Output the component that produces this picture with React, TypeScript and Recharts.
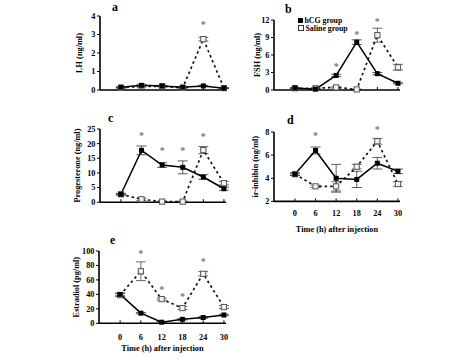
import React from 'react';
import { ComposedChart, Line, XAxis, YAxis, ErrorBar, ReferenceDot, Legend, Label } from 'recharts';

// ---------- data ----------
const times = [0, 6, 12, 18, 24, 30];
const timeTicks = [0, 6, 12, 18, 24, 30];

// a: LH (ng/ml)
const lhHcg = [0.15, 0.25, 0.22, 0.15, 0.22, 0.1];
const lhHcgErr = [0.03, 0.04, 0.03, 0.03, 0.04, 0.02];
const lhSaline = [0.12, 0.2, 0.2, 0.12, 2.75, 0.1];
const lhSalineErr = [0.02, 0.03, 0.03, 0.02, 0.1, 0.02];
const lhStarTimes = [24];
const lhStarValues = [3.55];
const lhTicks = [0, 1, 2, 3, 4];

// b: FSH (ng/ml)
const fshHcg = [0.35, 0.15, 2.5, 8.2, 2.8, 1.15];
const fshHcgErr = [0.05, 0.05, 0.2, 0.4, 0.2, 0.1];
const fshSaline = [0.3, 0.3, 0.45, 0.1, 9.4, 3.9];
const fshSalineErr = [0.05, 0.05, 0.1, 0.05, 1.2, 0.5];
const fshStarTimes = [12, 18, 24];
const fshStarValues = [4.2, 9.6, 11.9];
const fshTicks = [0, 3, 6, 9, 12];

// c: Progesterone (ng/ml)
const progHcg = [2.7, 17.7, 12.7, 11.9, 8.6, 4.6];
const progHcgErr = [0.3, 1.5, 0.8, 2.2, 0.8, 0.5];
const progSaline = [2.7, 1.0, 0.2, 0.2, 17.8, 6.5];
const progSalineErr = [0.2, 0.4, 0.2, 0.2, 1.2, 0.6];
const progStarTimes = [6, 12, 18, 24];
const progStarValues = [23, 17.8, 17.8, 22.6];
const progTicks = [0, 5, 10, 15, 20, 25];

// d: ir-inhibin (ng/ml)
const inhHcg = [4.35, 6.4, 4.0, 3.9, 5.3, 4.6];
const inhHcgErr = [0.1, 0.3, 1.2, 0.7, 0.5, 0.2];
const inhSaline = [4.35, 3.3, 3.3, 5.0, 7.2, 3.5];
const inhSalineErr = [0.1, 0.1, 0.4, 0.2, 0.25, 0.2];
const inhStarTimes = [6, 24];
const inhStarValues = [7.7, 8.25];
const inhTicks = [2, 4, 6, 8];

// e: Estradiol (pg/ml)
const e2Hcg = [40, 14, 1.5, 5.5, 8, 11.5];
const e2HcgErr = [2, 1, 1, 1, 1, 1];
const e2Saline = [39, 72, 33.5, 21, 68.5, 22.5];
const e2SalineErr = [2, 13, 1.5, 2, 3, 2];
const e2StarTimes = [6, 12, 18, 24];
const e2StarValues = [97, 48, 37.7, 85.5];
const e2Ticks = [0, 20, 40, 60, 80, 100];

const xTitle = 'Time (h) after injection';

// ---------- styling ----------
const FONT = '"Liberation Serif", "Times New Roman", serif';
const FS = 8.3;
const YW = 40;
const MT = 10;
const MR = 10;
const XH = 40;

const buildRows = (h: number[], s: number[], he: number[], se: number[]) =>
  times.map((t, i) => ({ t, hcg: h[i], saline: s[i], hcgErr: he[i], salineErr: se[i] }));

const FilledSquare = (p: any) => {
  if (p.cx == null || p.cy == null) return <g key={p.key ?? p.index} />;
  return <rect key={p.key ?? p.index} x={p.cx - 2.5} y={p.cy - 2.5} width={5} height={5} fill="#000" />;
};
const OpenSquare = (p: any) => {
  if (p.cx == null || p.cy == null) return <g key={p.key ?? p.index} />;
  return (
    <rect key={p.key ?? p.index} x={p.cx - 2.6} y={p.cy - 2.6} width={5.2} height={5.2} fill="#f2f2f2" stroke="#555" strokeWidth={1} />
  );
};
const StarShape = (p: any) => (
  <text x={p.cx} y={p.cy + 4} textAnchor="middle" fontSize={10} fontFamily={FONT} fontWeight="bold" fill="#777">
    *
  </text>
);

type PanelProps = {
  plotLeft: number; plotRight: number; plotTop: number; plotBottom: number;
  yDomain: [number, number]; yTicks: number[]; yLabel: string; labelDist: number;
  hcg: number[]; saline: number[]; hcgErr: number[]; salineErr: number[];
  starTimes: number[]; starValues: number[];
  showX?: boolean; xTickMargin?: number; xTitleDy?: number; legend?: boolean;
};

const LegendContent = () => (
  <div style={{ fontFamily: FONT, fontSize: 7.8, fontWeight: 'bold', lineHeight: '7.5px', color: '#000', whiteSpace: 'nowrap' }}>
    <div style={{ display: 'flex', alignItems: 'center', height: 7.5 }}>
      <span style={{ display: 'inline-block', width: 5, height: 5, background: '#000', marginRight: 1.5 }} />
      hCG group
    </div>
    <div style={{ display: 'flex', alignItems: 'center', height: 7.5 }}>
      <span style={{ display: 'inline-block', width: 4, height: 4, background: '#fff', border: '0.8px solid #333', marginRight: 1.5 }} />
      Saline group
    </div>
  </div>
);

const Panel = (props: PanelProps) => {
  const plotW = props.plotRight - props.plotLeft;
  const plotH = props.plotBottom - props.plotTop;
  const width = YW + plotW + MR;
  const height = MT + plotH + XH;
  const data = buildRows(props.hcg, props.saline, props.hcgErr, props.salineErr);
  const tickStyle = { fill: '#000', fontSize: FS, fontWeight: 'bold' as const, fontFamily: FONT };
  return (
    <div style={{ position: 'absolute', left: props.plotLeft - YW, top: props.plotTop - MT, width, height }}>
      <ComposedChart width={width} height={height} data={data} margin={{ top: MT, right: MR, bottom: 0, left: 0 }}>
        <XAxis
          type="number"
          dataKey="t"
          domain={[-6.1, 30.6]}
          ticks={timeTicks}
          interval={0}
          height={XH}
          tickSize={-3}
          tickMargin={props.xTickMargin ?? 12}
          axisLine={{ stroke: '#000', strokeWidth: 1.6 }}
          tickLine={{ stroke: '#000', strokeWidth: 1 }}
          tick={tickStyle}
          tickFormatter={(v: number) => (props.showX ? String(v) : '')}
        >
          {props.showX && (
            <Label
              content={() => (
                <text
                  x={YW + plotW / 2}
                  y={MT + plotH + (props.xTitleDy ?? 27)}
                  textAnchor="middle"
                  fontFamily={FONT}
                  fontSize={FS}
                  fontWeight="bold"
                  fill="#000"
                >
                  {xTitle}
                </text>
              )}
            />
          )}
        </XAxis>
        <YAxis
          type="number"
          domain={props.yDomain}
          ticks={props.yTicks}
          interval={0}
          width={YW}
          tickSize={3}
          tickMargin={1.5}
          axisLine={{ stroke: '#000', strokeWidth: 1.6 }}
          tickLine={{ stroke: '#000', strokeWidth: 1 }}
          tick={tickStyle}
        >
          <Label
            content={() => {
              const cx = YW - props.labelDist;
              const cy = MT + plotH / 2;
              return (
                <text
                  x={cx}
                  y={cy}
                  transform={`rotate(-90 ${cx} ${cy})`}
                  textAnchor="middle"
                  dominantBaseline="central"
                  fontFamily={FONT}
                  fontSize={FS}
                  fontWeight="bold"
                  fill="#000"
                >
                  {props.yLabel}
                </text>
              );
            }}
          />
        </YAxis>
        {props.legend && (
          <Legend
            layout="vertical"
            align="center"
            verticalAlign="middle"
            content={() => <LegendContent />}
            wrapperStyle={{ position: 'absolute', left: 64, top: 7, width: 80, height: 16 }}
          />
        )}
        <Line
          dataKey="saline"
          stroke="#111"
          strokeWidth={1.7}
          strokeDasharray="2.5 3"
          dot={OpenSquare}
          activeDot={false}
          isAnimationActive={false}
          legendType="square"
        >
          <ErrorBar dataKey="salineErr" width={5} stroke="#444" strokeWidth={0.8} direction="y" />
        </Line>
        <Line
          dataKey="hcg"
          stroke="#000"
          strokeWidth={1.5}
          dot={FilledSquare}
          activeDot={false}
          isAnimationActive={false}
          legendType="square"
        >
          <ErrorBar dataKey="hcgErr" width={5} stroke="#333" strokeWidth={0.8} direction="y" />
        </Line>
        {props.starTimes.map((t, i) => (
          <ReferenceDot key={`s${i}`} x={t} y={props.starValues[i]} ifOverflow="visible" shape={StarShape} />
        ))}
      </ComposedChart>
    </div>
  );
};

const titles = [
  { text: 'a', x: 112, y: 11 },
  { text: 'b', x: 285, y: 13 },
  { text: 'c', x: 108, y: 122 },
  { text: 'd', x: 287, y: 124 },
  { text: 'e', x: 110, y: 244 },
];

export default function App() {
  return (
    <div style={{ position: 'absolute', left: 0, top: 0, width: 474, height: 363, background: '#fff', overflow: 'hidden', fontFamily: FONT }}>
      <Panel
        plotLeft={100} plotRight={226} plotTop={16} plotBottom={90}
        yDomain={[0, 4]} yTicks={lhTicks} yLabel="LH (ng/ml)" labelDist={21}
        hcg={lhHcg} saline={lhSaline} hcgErr={lhHcgErr} salineErr={lhSalineErr}
        starTimes={lhStarTimes} starValues={lhStarValues}
      />
      <Panel
        plotLeft={274} plotRight={400} plotTop={20} plotBottom={90}
        yDomain={[0, 12]} yTicks={fshTicks} yLabel="FSH (ng/ml)" labelDist={17}
        hcg={fshHcg} saline={fshSaline} hcgErr={fshHcgErr} salineErr={fshSalineErr}
        starTimes={fshStarTimes} starValues={fshStarValues} legend
      />
      <Panel
        plotLeft={100} plotRight={226} plotTop={128.5} plotBottom={201.7}
        yDomain={[0, 25]} yTicks={progTicks} yLabel="Progesterone (ng/ml)" labelDist={23}
        hcg={progHcg} saline={progSaline} hcgErr={progHcgErr} salineErr={progSalineErr}
        starTimes={progStarTimes} starValues={progStarValues}
      />
      <Panel
        plotLeft={274} plotRight={400} plotTop={132.3} plotBottom={201.7}
        yDomain={[2, 8]} yTicks={inhTicks} yLabel="ir-inhibin (ng/ml)" labelDist={18}
        hcg={inhHcg} saline={inhSaline} hcgErr={inhHcgErr} salineErr={inhSalineErr}
        starTimes={inhStarTimes} starValues={inhStarValues}
        showX xTickMargin={11.5} xTitleDy={31}
      />
      <Panel
        plotLeft={99} plotRight={226} plotTop={250.7} plotBottom={323}
        yDomain={[0, 100]} yTicks={e2Ticks} yLabel="Estradiol (pg/ml)" labelDist={22}
        hcg={e2Hcg} saline={e2Saline} hcgErr={e2HcgErr} salineErr={e2SalineErr}
        starTimes={e2StarTimes} starValues={e2StarValues}
        showX xTickMargin={13.5} xTitleDy={27.5}
      />
      <svg width={474} height={363} style={{ position: 'absolute', left: 0, top: 0, pointerEvents: 'none' }}>
        {titles.map((t) => (
          <text key={t.text} x={t.x} y={t.y} fontFamily={FONT} fontSize={12} fontWeight="bold" fill="#000">
            {t.text}
          </text>
        ))}
      </svg>
    </div>
  );
}
